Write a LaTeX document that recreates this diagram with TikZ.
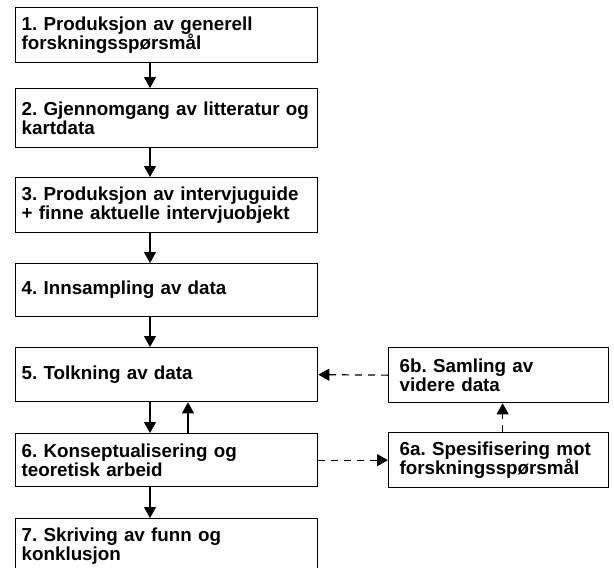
\documentclass[tikz,border=0pt]{standalone}
\usepackage{fontspec}
\setmainfont{Liberation Sans}
\usetikzlibrary{arrows.meta}
\begin{document}
\frenchspacing
\begin{tikzpicture}[x=1pt,y=-1pt,
  lbox/.style={draw=black, line width=1.3pt, anchor=north west, inner xsep=6pt, inner ysep=0pt,
    align=left, text width=290pt, minimum width=302pt, minimum height=#1,
    font=\fontsize{18.8}{19.5}\selectfont\bfseries},
  rbox/.style={draw=black, line width=1.3pt, anchor=north west, inner xsep=11pt, inner ysep=0pt,
    align=left, text width=198pt, minimum width=220pt, minimum height=#1,
    font=\fontsize{18.8}{19.5}\selectfont\bfseries},
  arr/.style={line width=1.2pt, -{Triangle[width=12pt,length=11pt]}},
  darr/.style={arr, dash pattern=on 7pt off 6pt}]
\useasboundingbox (0,0) rectangle (614,568);
\fill[white] (0,0) rectangle (614,568);
\node[lbox=55pt] (b1) at (15,7) {1. Produksjon av generell\\forskningsspørsmål};
\node[lbox=59pt] (b2) at (15,88) {2. Gjennomgang av litteratur og\\kartdata};
\node[lbox=55pt] (b3) at (15,177) {3. Produksjon av intervjuguide\\+ finne aktuelle intervjuobjekt};
\node[lbox=53pt] (b4) at (15,263) {4. Innsampling av data};
\node[lbox=54pt] (b5) at (15,347) {5. Tolkning av data};
\node[lbox=53pt] (b6) at (15,433) {6. Konseptualisering og\\teoretisk arbeid};
\node[lbox=55pt] (b7) at (15,518) {7. Skriving av funn og\\konklusjon};
\node[rbox=55pt] (r6b) at (388,347) {6b. Samling av\\videre data};
\node[rbox=55pt] (r6a) at (388,432) {6a. Spesifisering mot\\forskningsspørsmål};
\draw[arr] ([xshift=135pt]b1.south west) -- ([xshift=135pt]b2.north west);
\draw[arr] ([xshift=135pt]b2.south west) -- ([xshift=135pt]b3.north west);
\draw[arr] ([xshift=135pt]b3.south west) -- ([xshift=135pt]b4.north west);
\draw[arr] ([xshift=135pt]b4.south west) -- ([xshift=135pt]b5.north west);
\draw[arr] ([xshift=135pt]b5.south west) -- ([xshift=135pt]b6.north west);
\draw[arr] ([xshift=173pt]b6.north west) -- ([xshift=173pt]b5.south west);
\draw[arr] ([xshift=135pt]b6.south west) -- ([xshift=135pt]b7.north west);
\draw[darr] (r6b.west) -- (b5.east);
\draw[darr] (b6.east) -- (r6a.west);
\draw[darr] ([xshift=4pt]r6a.north) -- ([xshift=4pt]r6b.south);
\end{tikzpicture}
\end{document}
